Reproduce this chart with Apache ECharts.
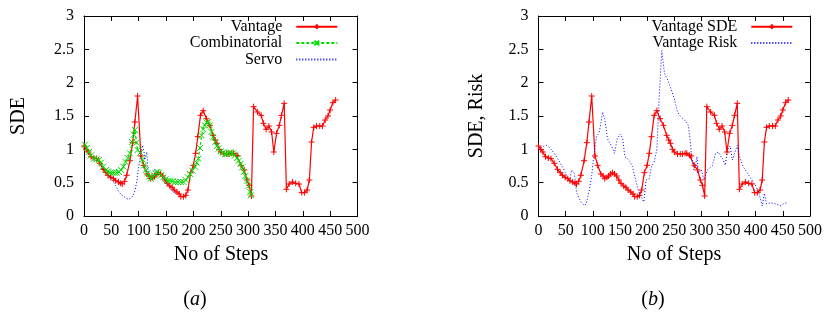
<!DOCTYPE html>
<html>
<head>
<meta charset="utf-8">
<script src="https://cdn.jsdelivr.net/npm/echarts@6/dist/echarts.min.js"></script>
<style>
  html, body { margin: 0; padding: 0; background: #fff; }
  #chart { width: 825px; height: 320px; }
</style>
</head>
<body>
<div id="chart"></div>
<script>
// x ticks (steps) and y ticks
const xTicks = [0, 50, 100, 150, 200, 250, 300, 350, 400, 450, 500];
const yTicks = [0, 0.5, 1, 1.5, 2, 2.5, 3];

// Vantage SDE (same curve in both panels)
const vantageSteps = [0, 4, 8, 13, 18, 23, 29, 35, 40, 44, 49, 54, 58, 63, 67, 70, 74, 78, 84, 89, 93, 98,
  104, 109, 115, 119, 122, 126, 129, 133, 136, 140, 144, 148, 152, 157, 161, 165, 170, 174, 177, 182, 186, 190,
  195, 200, 204, 208, 213, 218, 224, 230, 236, 240, 243, 247, 250, 256, 261, 265, 270, 273, 278, 281, 287, 293,
  298, 302, 306, 310, 317, 324, 328, 333, 338, 343, 347, 352, 357, 361, 366, 370, 375, 381, 387, 393, 398, 403,
  408, 412, 416, 420, 425, 431, 436, 441, 446, 450, 455, 460];
const vantageSde = [1.05, 1.00, 0.96, 0.89, 0.87, 0.86, 0.79, 0.70, 0.65, 0.61, 0.58, 0.56, 0.53, 0.51, 0.49, 0.48, 0.52, 0.61, 0.83, 1.10, 1.41, 1.80,
  0.90, 0.76, 0.63, 0.60, 0.56, 0.58, 0.60, 0.63, 0.65, 0.63, 0.60, 0.54, 0.49, 0.45, 0.43, 0.39, 0.36, 0.33, 0.29, 0.29, 0.31, 0.39,
  0.65, 0.76, 0.94, 1.19, 1.51, 1.58, 1.46, 1.36, 1.21, 1.14, 1.09, 1.00, 0.96, 0.93, 0.93, 0.93, 0.94, 0.94, 0.91, 0.90, 0.76, 0.69,
  0.54, 0.46, 0.30, 1.64, 1.56, 1.51, 1.39, 1.30, 1.35, 1.26, 0.96, 1.24, 1.36, 1.51, 1.69, 0.40, 0.48, 0.51, 0.49, 0.48, 0.35, 0.35,
  0.39, 0.54, 1.11, 1.33, 1.35, 1.35, 1.35, 1.44, 1.50, 1.59, 1.70, 1.74];

// Combinatorial SDE (panel a)
const combSteps = [2, 5, 9, 13, 18, 23, 27, 31, 35, 40, 44, 48, 52, 56, 60, 64, 68, 72, 76, 80, 84, 88, 91, 93, 96, 98,
  103, 107, 110, 113, 116, 119, 122, 125, 128, 131, 134, 137, 141, 145, 149, 153, 157, 162, 167, 172, 177, 182, 186, 190,
  194, 198, 203, 206, 209, 212, 215, 218, 221, 224, 227, 230, 233, 236, 240, 243, 246, 250, 254, 258, 261, 265, 268, 272,
  276, 280, 283, 286, 289, 292, 295, 298, 301, 304, 305];
const combSde = [1.07, 1.02, 0.96, 0.91, 0.86, 0.85, 0.84, 0.80, 0.74, 0.69, 0.67, 0.65, 0.65, 0.65, 0.65, 0.66, 0.69, 0.74, 0.81, 0.87, 0.94, 1.11, 1.22, 1.29, 1.10, 0.99,
  0.95, 0.85, 0.76, 0.69, 0.64, 0.59, 0.56, 0.58, 0.61, 0.64, 0.66, 0.65, 0.61, 0.58, 0.55, 0.53, 0.53, 0.52, 0.51, 0.51, 0.51, 0.51, 0.54, 0.58,
  0.63, 0.68, 0.74, 0.80, 0.86, 1.02, 1.21, 1.30, 1.36, 1.40, 1.41, 1.36, 1.26, 1.18, 1.11, 1.05, 1.01, 0.97, 0.95, 0.93, 0.93, 0.95, 0.95, 0.94,
  0.91, 0.87, 0.83, 0.78, 0.73, 0.66, 0.60, 0.53, 0.45, 0.36, 0.31];

// Servo SDE (panel a)
const servoSteps = [0, 5, 10, 15, 20, 25, 30, 35, 40, 46, 50, 55, 60, 64, 68, 73, 78, 82, 86, 90, 93, 96, 98, 100, 103, 105,
  107, 108, 110, 111, 113, 115, 116, 117, 120, 122, 125, 129, 132, 135, 140, 145, 150, 155, 160, 165, 170];
const servoSde = [1.05, 1.00, 0.95, 0.89, 0.86, 0.85, 0.79, 0.71, 0.65, 0.59, 0.55, 0.49, 0.42, 0.36, 0.32, 0.29, 0.26, 0.25, 0.27, 0.31, 0.38, 0.49, 0.62, 0.74, 0.88, 0.99,
  1.06, 1.09, 0.95, 0.84, 0.90, 0.96, 0.80, 0.69, 0.59, 0.57, 0.64, 0.69, 0.67, 0.64, 0.62, 0.57, 0.50, 0.44, 0.39, 0.35, 0.33];

// Vantage Risk (panel b)
const riskSteps = [0, 5, 10, 15, 19, 23, 28, 32, 37, 41, 46, 50, 54, 57, 61, 64, 66, 70, 74, 78, 84, 88, 93, 98,
  102, 107, 112, 115, 118, 122, 127, 131, 135, 140, 145, 151, 155, 159, 164, 168, 173, 179, 184, 188, 191, 194, 198,
  204, 208, 213, 218, 222, 227, 232, 238, 244, 250, 256, 262, 269, 276, 280, 282, 286, 289, 292, 294, 300, 305, 311,
  316, 320, 326, 331, 335, 339, 344, 348, 353, 357, 361, 366, 370, 377, 385, 393, 401, 407, 412, 416, 420, 428, 437,
  445, 453, 459];
const riskVal = [0.99, 1.02, 1.05, 1.06, 1.04, 1.00, 0.95, 0.90, 0.84, 0.78, 0.71, 0.64, 0.57, 0.51, 0.69, 0.68, 0.64, 0.36, 0.28, 0.21, 0.16, 0.18, 0.36, 0.61,
  0.91, 1.19, 1.26, 1.40, 1.56, 1.46, 1.16, 1.10, 1.04, 0.94, 1.16, 1.23, 1.16, 0.89, 0.86, 0.82, 0.74, 0.54, 0.38, 0.30, 0.27, 0.21, 0.54,
  0.56, 0.74, 0.81, 1.00, 1.74, 2.48, 2.14, 2.04, 1.91, 1.76, 1.56, 1.49, 1.44, 1.36, 1.09, 0.89, 0.69, 0.75, 0.89, 0.64, 0.69, 0.54, 0.69,
  0.72, 0.75, 0.94, 0.96, 0.90, 0.86, 0.76, 0.99, 1.05, 0.84, 0.94, 1.06, 0.89, 0.74, 0.64, 0.54, 0.44, 0.31, 0.15, 0.34, 0.18, 0.20, 0.18,
  0.15, 0.19, 0.20];

const FONT = 'Liberation Serif';
const RED = '#ff0000';
const GREEN = '#00dd00';
const BLUE = '#0000ff';
const PLUS = 'path://M0,5L10,5M5,0L5,10';
const CROSS = 'path://M0,0L10,10M10,0L0,10';

const zip = (xs, ys) => xs.map((x, i) => [x, ys[i]]);

const chart = echarts.init(document.getElementById('chart'), null, { renderer: 'canvas' });

const frameLine = { show: true, onZero: false, lineStyle: { color: '#000', width: 1 } };
const inTick = { show: true, inside: true, length: 5, lineStyle: { color: '#000', width: 1 } };

function xAxis(gridIndex, position, labels) {
  return {
    type: 'value', gridIndex, position,
    min: xTicks[0], max: xTicks[xTicks.length - 1], interval: 50,
    axisLine: frameLine, axisTick: inTick, splitLine: { show: false },
    axisLabel: { show: labels, color: '#000', fontFamily: FONT, fontSize: 16, margin: 7, hideOverlap: false }
  };
}
function yAxis(gridIndex, position, labels) {
  return {
    type: 'value', gridIndex, position,
    min: yTicks[0], max: yTicks[yTicks.length - 1], interval: 0.5,
    axisLine: frameLine, axisTick: inTick, splitLine: { show: false },
    axisLabel: { show: labels, color: '#000', fontFamily: FONT, fontSize: 16, margin: 10 }
  };
}

// one legend per entry so the text is right-aligned against the line sample
function legend(name, right, top, noMarker) {
  const l = {
    data: [name], right, top, padding: 0, align: 'right',
    itemWidth: 41, itemHeight: 6, selectedMode: false,
    textStyle: { color: '#000', fontFamily: FONT, fontSize: 16, lineHeight: 16, padding: [0, 9, 0, 0] }
  };
  if (noMarker) l.itemStyle = { opacity: 0 };
  return l;
}

function txt(text, x, y, rot) {
  return {
    type: 'text', x, y, rotation: rot ? Math.PI / 2 : 0,
    style: { text, fill: '#000', font: '20px "Liberation Serif"', align: 'center', verticalAlign: 'middle' }
  };
}
function caption(letter, x, y) {
  return {
    type: 'text', x, y,
    style: {
      text: '{n|(}{i|' + letter + '}{n|)}', align: 'center', verticalAlign: 'middle',
      rich: {
        n: { fontFamily: FONT, fontSize: 20, fill: '#000' },
        i: { fontFamily: FONT, fontSize: 20, fontStyle: 'italic', fill: '#000' }
      }
    }
  };
}

const option = {
  animation: false,
  backgroundColor: '#fff',
  grid: [
    { left: 84, top: 16, width: 273.5, height: 200 },
    { left: 538.5, top: 16, width: 272, height: 200 }
  ],
  xAxis: [xAxis(0, 'bottom', true), xAxis(0, 'top', false), xAxis(1, 'bottom', true), xAxis(1, 'top', false)],
  yAxis: [yAxis(0, 'left', true), yAxis(0, 'right', false), yAxis(1, 'left', true), yAxis(1, 'right', false)],
  legend: [
    legend('Vantage', 486.7, 18.7),
    legend('Combinatorial', 486.7, 35),
    legend('Servo', 486.7, 51.5, true),
    legend('Vantage SDE', 31.7, 18.7),
    legend('Vantage Risk', 31.7, 35, true)
  ],
  series: [
    {
      name: 'Vantage', type: 'line', xAxisIndex: 0, yAxisIndex: 0,
      data: zip(vantageSteps, vantageSde),
      symbol: PLUS, symbolSize: 6, showSymbol: true,
      lineStyle: { color: RED, width: 1.2 },
      itemStyle: { color: RED, borderColor: RED, borderWidth: 1 }
    },
    {
      name: 'Combinatorial', type: 'line', xAxisIndex: 0, yAxisIndex: 0,
      data: zip(combSteps, combSde),
      symbol: CROSS, symbolSize: 6, showSymbol: true,
      lineStyle: { color: GREEN, width: 1.2, type: [3, 2] },
      itemStyle: { color: GREEN, borderColor: GREEN, borderWidth: 1 }
    },
    {
      name: 'Servo', type: 'line', xAxisIndex: 0, yAxisIndex: 0,
      data: zip(servoSteps, servoSde),
      symbol: 'none',
      lineStyle: { color: BLUE, width: 1, type: [1, 2] },
      itemStyle: { color: BLUE }
    },
    {
      name: 'Vantage SDE', type: 'line', xAxisIndex: 2, yAxisIndex: 2,
      data: zip(vantageSteps, vantageSde),
      symbol: PLUS, symbolSize: 6, showSymbol: true,
      lineStyle: { color: RED, width: 1.2 },
      itemStyle: { color: RED, borderColor: RED, borderWidth: 1 }
    },
    {
      name: 'Vantage Risk', type: 'line', xAxisIndex: 2, yAxisIndex: 2,
      data: zip(riskSteps, riskVal),
      symbol: 'none',
      lineStyle: { color: BLUE, width: 1, type: [1, 2] },
      itemStyle: { color: BLUE }
    }
  ],
  graphic: [
    txt('SDE', 18.5, 116, true),
    txt('No of Steps', 221, 255, false),
    caption('a', 195, 300),
    txt('SDE, Risk', 477, 116, true),
    txt('No of Steps', 674, 255, false),
    caption('b', 653, 300)
  ]
};

chart.setOption(option);
</script>
</body>
</html>
